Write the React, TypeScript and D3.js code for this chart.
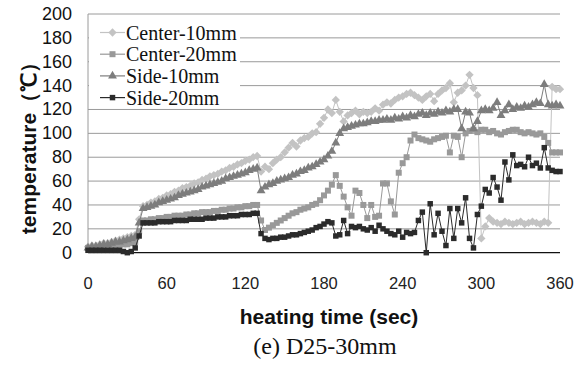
import React from "react";
import * as d3 from "d3";

// Sampling times (s), one reading every 3 seconds
const times: number[] = d3.range(0, 361, 3);

const center10: number[] = [
  5, 6, 6, 7, 8, 8, 9, 10, 11, 12, 13, 14, 15,
  28, 39,
  40, 42, 43, 45, 46, 48, 49, 51, 52, 54, 55, 56, 58, 59, 61, 62, 64, 65, 66, 68, 69, 71, 72, 74, 75, 77, 78, 80, 81,
  68, 72, 70, 75, 78, 80, 84, 88, 92, 89, 94, 96, 97, 100, 101, 108, 113, 120, 117, 128,
  118, 110, 115, 117, 119, 116, 118, 117, 118, 121, 119, 124, 126, 125, 128, 130, 131, 133, 134, 132,
  130, 128, 131, 133, 127, 133, 136, 138, 142, 126, 134, 136, 140, 149, 138, 132,
  12, 22, 29, 26, 25, 24, 26, 25, 24, 25, 26, 24, 25, 26, 25, 24, 26, 25,
  139, 137, 137,
];

const center20: number[] = [
  4, 4, 4, 5, 5, 5, 6, 6, 6, 7, 7, 8, 9,
  18, 27,
  27, 28, 28, 29, 29, 30, 30, 31, 31, 31, 32, 32, 33, 33, 34, 34, 34, 35, 35, 36, 36, 37, 37, 38, 38, 39, 39, 40, 40,
  27, 19, 21, 23, 25, 27, 29, 31, 33, 34, 36, 37, 38, 40, 41, 44, 48, 52, 57, 65,
  56, 47, 38, 31, 52, 50, 40, 29, 40, 30, 31, 58, 58, 43, 32, 67, 75, 80, 94, 99,
  96, 95, 94, 93, 95, 96, 97, 98, 84, 98, 97, 80, 100, 102, 103, 101,
  103, 103, 101, 102, 100, 99, 101, 102, 103, 103, 101, 100, 101, 100, 99, 100, 97, 92, 84, 84, 84,
];

const side10: number[] = [
  4, 5, 5, 6, 7, 7, 8, 9, 9, 10, 11, 12, 13,
  25, 37,
  38, 39, 40, 42, 43, 44, 45, 46, 48, 49, 50, 51, 52, 53, 55, 56, 57, 58, 59, 60, 62, 63, 64, 65, 66, 67, 69, 70, 71,
  52, 55, 57, 58, 60, 61, 62, 63, 65, 66, 68, 69, 71, 72, 74, 76, 78, 81, 85, 92,
  100, 104, 105, 106, 107, 108, 108, 109, 110, 110, 111, 111, 112, 111, 113, 112, 114, 113, 115, 114,
  116, 117, 115, 117, 116, 118, 117, 119, 118, 120, 120, 104, 118, 117, 104, 110,
  119, 120, 119, 121, 126, 115, 119, 124, 120, 122, 121, 123, 122, 124, 126, 125, 141, 124, 123, 124, 123,
];

const side20: number[] = [
  2, 2, 2, 2, 2, 2, 2, 2, 2, 1, 0, 1, 4,
  14, 25,
  25, 25, 25, 26, 26, 26, 26, 27, 27, 27, 27, 28, 28, 28, 28, 29, 29, 29, 30, 30, 30, 31, 31, 31, 32, 32, 32, 33, 33,
  16, 12, 11, 12, 12, 13, 13, 14, 15, 15, 16, 17, 18, 19, 21, 22, 24, 26, 25, 14,
  15, 27, 16, 22, 21, 22, 20, 19, 21, 18, 23, 20, 18, 16, 15, 18, 13, 17, 16, 17,
  27, 34, 0, 41, 15, 33, 18, 6, 37, 12, 37, 25, 46, 12, 4, 32,
  39, 53, 50, 63, 55, 44, 76, 61, 82, 73, 74, 72, 80, 73, 75, 71, 88, 71, 69, 68, 68,
];

const seriesNames: string[] = ["Center-10mm", "Center-20mm", "Side-10mm", "Side-20mm"];
const xTicks: number[] = [0, 60, 120, 180, 240, 300, 360];
const yTicks: number[] = [0, 20, 40, 60, 80, 100, 120, 140, 160, 180, 200];

type Shape = "diamond" | "square" | "triangle" | "smallSquare";

const styles: { color: string; shape: Shape }[] = [
  { color: "#c3c3c3", shape: "diamond" },
  { color: "#999999", shape: "square" },
  { color: "#7d7d7d", shape: "triangle" },
  { color: "#2b2b2b", shape: "smallSquare" },
];

const W = 587;
const H = 367;

const x = d3.scaleLinear().domain([0, 360]).range([88, 560]);
const y = d3.scaleLinear().domain([0, 200]).range([252.7, 14]);

const symbolFor = (shape: Shape) => {
  switch (shape) {
    case "diamond":
      return d3.symbol(d3.symbolDiamond2, 44)();
    case "square":
      return d3.symbol(d3.symbolSquare, 36)();
    case "triangle":
      return d3.symbol(d3.symbolTriangle, 34)();
    default:
      return d3.symbol(d3.symbolSquare, 30)();
  }
};

const Marker = ({ shape, color, cx, cy }: { shape: Shape; color: string; cx: number; cy: number }) => (
  <path d={symbolFor(shape) as string} transform={`translate(${cx},${cy})`} fill={color} />
);

export default function App() {
  const allSeries = [center10, center20, side10, side20];
  const line = d3
    .line<number>()
    .x((_, i) => x(times[i]))
    .y((d) => y(d));

  const sans = "'Liberation Sans', Arial, sans-serif";
  const serif = "'Liberation Serif', 'Times New Roman', serif";

  return (
    <svg
      width={W}
      height={H}
      viewBox={`0 0 ${W} ${H}`}
      style={{ position: "absolute", left: 0, top: 0, background: "#fff" }}
    >
      <rect x={0} y={0} width={W} height={H} fill="#fff" />

      {/* horizontal gridlines */}
      {yTicks.slice(1).map((t) => (
        <line key={t} x1={x(0)} x2={x(360)} y1={y(t)} y2={y(t)} stroke="#9a9a9a" strokeWidth={1} />
      ))}
      {/* value axis */}
      <line x1={x(0)} x2={x(0)} y1={y(200)} y2={y(0)} stroke="#9a9a9a" strokeWidth={1} />
      {/* time axis */}
      <line x1={x(0)} x2={x(360)} y1={y(0)} y2={y(0)} stroke="#111" strokeWidth={1.2} />

      {/* y tick labels */}
      {yTicks.map((t) => (
        <text
          key={t}
          x={72}
          y={y(t)}
          textAnchor="end"
          dominantBaseline="central"
          fontFamily={sans}
          fontSize={18}
          fill="#111"
        >
          {t}
        </text>
      ))}

      {/* x tick labels */}
      {xTicks.map((t) => (
        <text
          key={t}
          x={x(t)}
          y={283}
          textAnchor="middle"
          dominantBaseline="central"
          fontFamily={sans}
          fontSize={16.5}
          fill="#222"
        >
          {t}
        </text>
      ))}

      {/* series */}
      {allSeries.map((vals, si) => (
        <g key={seriesNames[si]}>
          <path d={line(vals) as string} fill="none" stroke={styles[si].color} strokeWidth={1} />
          {vals.map((v, i) => (
            <Marker key={i} shape={styles[si].shape} color={styles[si].color} cx={x(times[i])} cy={y(v)} />
          ))}
        </g>
      ))}

      {/* legend */}
      <rect x={89} y={20} width={151} height={86} fill="#fff" />
      {seriesNames.map((name, i) => {
        const cy = 32.5 + i * 21.7;
        return (
          <g key={name}>
            <line x1={100} x2={125} y1={cy} y2={cy} stroke={styles[i].color} strokeWidth={1.2} />
            <Marker shape={styles[i].shape} color={styles[i].color} cx={112.5} cy={cy} />
            <text x={126} y={cy} dominantBaseline="central" fontFamily={serif} fontSize={20} fill="#111">
              {name}
            </text>
          </g>
        );
      })}

      {/* axis titles */}
      <text
        transform={`translate(28,${143}) rotate(-90)`}
        textAnchor="middle"
        dominantBaseline="central"
        fontFamily={sans}
        fontWeight="bold"
        fontSize={21}
        fill="#111"
      >
        temperature（℃）
      </text>
      <text
        x={329}
        y={316}
        textAnchor="middle"
        dominantBaseline="central"
        fontFamily={sans}
        fontWeight="bold"
        fontSize={21}
        fill="#111"
      >
        heating time (sec)
      </text>
      <text
        x={325}
        y={346}
        textAnchor="middle"
        dominantBaseline="central"
        fontFamily={serif}
        fontSize={24}
        fill="#111"
      >
        (e) D25-30mm
      </text>
    </svg>
  );
}
